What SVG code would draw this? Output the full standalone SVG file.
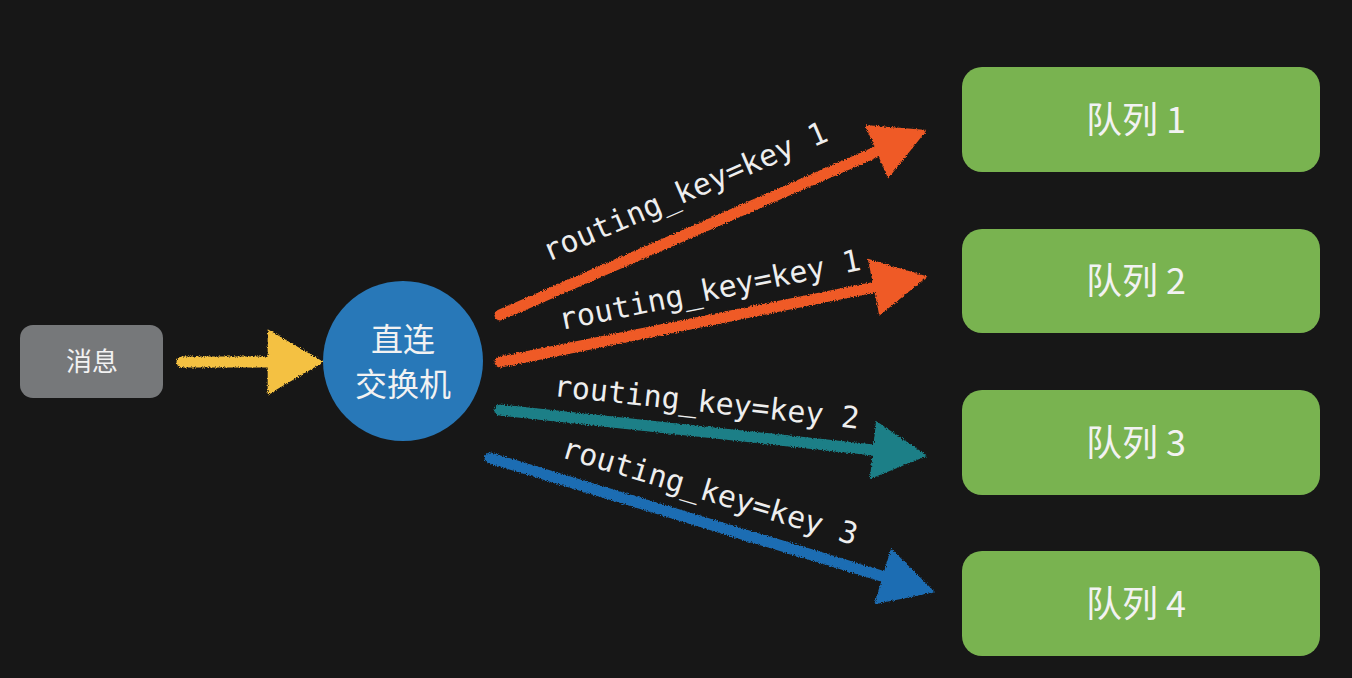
<svg xmlns="http://www.w3.org/2000/svg" width="1352" height="678" viewBox="0 0 1352 678">
<defs>
<style>
.bg{fill:#171717}
.msg{fill:#76787a}
.ex{fill:#2878b8}
.q{fill:#79b350}
.cn{font-family:"Noto Sans CJK SC","Noto Sans",sans-serif;fill:#f2f2f2;text-anchor:middle}
.lbl{font-family:"DejaVu Sans Mono","Liberation Mono",monospace;font-size:30px;fill:#eeeeee}
.ln{fill:none;stroke-width:11;stroke-linecap:round;filter:url(#chalk)}
</style>
<filter id="chalk" filterUnits="userSpaceOnUse" x="0" y="0" width="1352" height="678">
<feTurbulence type="fractalNoise" baseFrequency="0.9" numOctaves="2" seed="3" result="n"/>
<feDisplacementMap in="SourceGraphic" in2="n" scale="4" xChannelSelector="R" yChannelSelector="G"/>
</filter>
<marker id="hY" markerUnits="userSpaceOnUse" markerWidth="60" markerHeight="70" viewBox="0 -30 50 60" refX="0" refY="0" orient="auto" overflow="visible">
<path d="M-2,-28 L46,0 L-2,28 Z" fill="#f4c142"/>
</marker>
<marker id="hO" markerUnits="userSpaceOnUse" markerWidth="60" markerHeight="70" viewBox="0 -30 50 60" refX="0" refY="0" orient="auto" overflow="visible">
<path d="M-2,-25 L45,0 L-2,25 Z" fill="#ef5a26"/>
</marker>
<marker id="hT" markerUnits="userSpaceOnUse" markerWidth="60" markerHeight="70" viewBox="0 -30 50 60" refX="0" refY="0" orient="auto" overflow="visible">
<path d="M-2,-25 L45,0 L-2,25 Z" fill="#1b7f87"/>
</marker>
<marker id="hB" markerUnits="userSpaceOnUse" markerWidth="60" markerHeight="70" viewBox="0 -30 50 60" refX="0" refY="0" orient="auto" overflow="visible">
<path d="M-2,-25 L45,0 L-2,25 Z" fill="#1e6db3"/>
</marker>
</defs>
<rect class="bg" x="0" y="0" width="1352" height="678"/>

<g id="connectors">
<line class="ln" x1="182" y1="362" x2="270" y2="362" stroke="#f4c142" marker-end="url(#hY)"/>
<line class="ln" x1="500" y1="315" x2="878.7" y2="150.9" stroke="#ef5a26" marker-end="url(#hO)"/>
<line class="ln" x1="500" y1="362" x2="875.9" y2="286.8" stroke="#ef5a26" marker-end="url(#hO)"/>
<line class="ln" x1="500" y1="410" x2="875.3" y2="450.2" stroke="#1b7f87" stroke-width="9" marker-end="url(#hT)"/>
<line class="ln" x1="490" y1="458" x2="884.9" y2="577" stroke="#1e6db3" stroke-width="9" marker-end="url(#hB)"/>
<text class="lbl" transform="translate(548,262) rotate(-23.4)">routing_key=key 1</text>
<text class="lbl" transform="translate(561,330) rotate(-11.3)">routing_key=key 1</text>
<text class="lbl" transform="translate(553,396) rotate(6.1)">routing_key=key 2</text>
<text class="lbl" transform="translate(560,457) rotate(16.7)">routing_key=key 3</text>
</g>

<g id="msg">
<rect class="msg" x="20" y="325" width="143" height="73" rx="13"/>
<text class="cn" x="92" y="371" font-size="26">消息</text>
</g>

<g id="exchange">
<circle class="ex" cx="403" cy="361" r="80"/>
<text class="cn" x="403" y="351" font-size="32">直连</text>
<text class="cn" x="403" y="396" font-size="32">交换机</text>
</g>

<g id="q1">
<rect class="q" x="962" y="67" width="358" height="105" rx="20"/>
<text class="cn" x="1136" y="133" font-size="36">队列 1</text>
</g>
<g id="q2">
<rect class="q" x="962" y="229" width="358" height="104" rx="20"/>
<text class="cn" x="1136" y="294" font-size="36">队列 2</text>
</g>
<g id="q3">
<rect class="q" x="962" y="390" width="358" height="105" rx="20"/>
<text class="cn" x="1136" y="456" font-size="36">队列 3</text>
</g>
<g id="q4">
<rect class="q" x="962" y="551" width="358" height="105" rx="20"/>
<text class="cn" x="1136" y="617" font-size="36">队列 4</text>
</g>
</svg>
